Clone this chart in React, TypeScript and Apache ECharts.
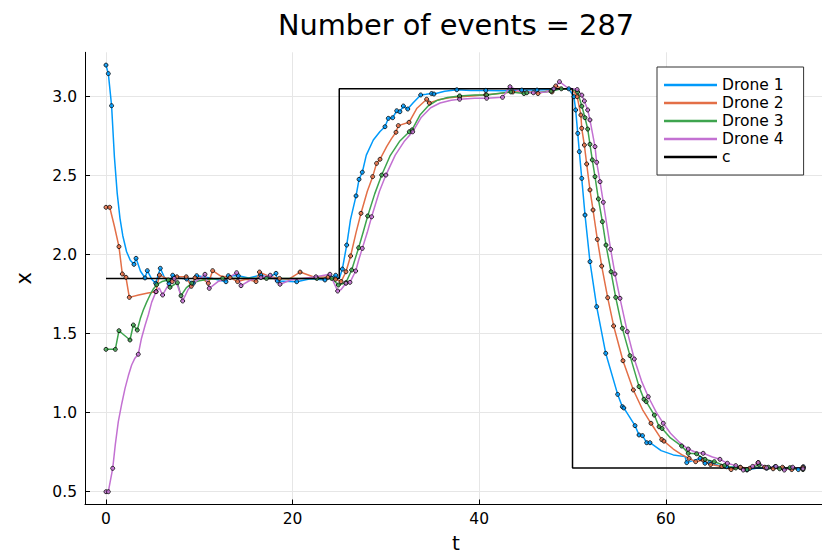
import React, { useEffect, useRef } from "react";
import * as echarts from "echarts";

const FONT = "DejaVu Sans";
const titleText = "Number of events = 287";
const xAxisTitle = "t";
const yAxisTitle = "x";
const droneNames = ["Drone 1", "Drone 2", "Drone 3", "Drone 4"];
const droneColors = ["#009AFA", "#E36F47", "#3EA44E", "#C371D2"];
const xTicks = [0, 20, 40, 60];
const yTicks = [0.5, 1.0, 1.5, 2.0, 2.5, 3.0];

// reference signal c
const cLine = [[0, 1.85], [25, 1.85], [25, 3.05], [50, 3.05], [50, 0.65], [75, 0.65]];

// [t, x, event?]  (third element 1 marks an event dot)
const drone1 = [
  [0, 3.2, 1], [0.25, 3.146, 1], [0.6, 2.943, 1], [0.9, 2.62], [1.2, 2.39], [1.5, 2.23], [1.8, 2.12], [2.2, 2.02], [2.6, 1.965],
  [3.0, 1.939, 1], [3.22, 1.977, 1], [3.7, 1.895], [4.18, 1.853, 1], [4.43, 1.899, 1], [4.9, 1.845], [5.33, 1.819, 1], [5.82, 1.914, 1],
  [6.3, 1.85], [6.75, 1.817, 1], [7.15, 1.87, 1], [7.9, 1.852], [8.65, 1.846, 1], [9.36, 1.819, 1], [9.72, 1.867, 1], [11.2, 1.852],
  [12.86, 1.829, 1], [13.11, 1.867, 1], [14.18, 1.867, 1], [15.3, 1.852], [16.58, 1.872, 1], [17.4, 1.855], [18.22, 1.882, 1],
  [18.36, 1.834, 1], [20.44, 1.829, 1], [21.9, 1.848], [23.47, 1.84, 1], [24.62, 1.87, 1], [25.0, 1.848], [25.33, 1.909, 1],
  [25.8, 2.061, 1], [26.2, 2.22], [26.8, 2.372, 1], [27.12, 2.477, 1], [27.47, 2.522, 1], [27.9, 2.63], [28.65, 2.726], [29.37, 2.78],
  [29.9, 2.81, 1], [30.26, 2.863, 1], [30.73, 2.867, 1], [31.16, 2.911, 1], [31.5, 2.905, 1], [31.87, 2.941, 1], [32.34, 2.922, 1],
  [32.9, 2.96], [33.73, 3.011, 1], [34.3, 3.015], [34.9, 3.02, 1], [35.15, 3.017, 1], [36.3, 3.035], [37.6, 3.044, 1], [39.1, 3.04],
  [40.7, 3.04, 1], [42.6, 3.038], [44.55, 3.042, 1], [46.2, 3.042, 1], [47.9, 3.046, 1], [49.6, 3.05, 1], [50.15, 3.0, 1],
  [50.34, 2.916, 1], [50.56, 2.768, 1], [50.73, 2.652, 1], [50.99, 2.483, 1], [51.34, 2.251, 1], [51.87, 1.956, 1], [52.59, 1.671, 1],
  [53.56, 1.376, 1], [54.84, 1.116, 1], [55.34, 1.038, 1], [55.5, 1.03, 1], [56.7, 0.918, 1], [57.13, 0.859, 1], [57.5, 0.855, 1],
  [57.95, 0.81, 1], [58.3, 0.81, 1], [59.5, 0.76], [60.8, 0.733], [62.06, 0.722], [62.24, 0.684, 1], [63.67, 0.711, 1], [64.2, 0.68, 1],
  [64.7, 0.684, 1], [65.6, 0.668], [66.5, 0.658, 1], [67.95, 0.654, 1], [68.7, 0.637, 1], [69.8, 0.65], [70.8, 0.648, 1],
  [71.7, 0.658, 1], [72.6, 0.648, 1], [73.5, 0.648, 1], [74.2, 0.64, 1], [74.74, 0.658, 1],
];

const drone2 = [
  [0, 2.3, 1], [0.4, 2.3, 1], [0.9, 2.18], [1.39, 2.051, 1], [1.75, 1.878, 1], [2.14, 1.857, 1], [2.5, 1.73, 1], [3.5, 1.745],
  [4.5, 1.757], [5.36, 1.766, 1], [5.72, 1.871, 1], [6.5, 1.85], [7.1, 1.83, 1], [7.6, 1.86, 1], [8.6, 1.86, 1], [9.14, 1.8, 1],
  [9.54, 1.854, 1], [10.3, 1.85], [10.97, 1.819, 1], [11.43, 1.899, 1], [12.3, 1.865], [13.3, 1.855, 1], [14.1, 1.83, 1],
  [15.0, 1.845], [16.08, 1.83, 1], [16.45, 1.89, 1], [17.5, 1.862], [18.6, 1.85, 1], [19.6, 1.846], [20.8, 1.89, 1], [22.2, 1.86],
  [23.8, 1.858, 1], [24.6, 1.845, 1], [25.2, 1.83, 1], [25.72, 1.892, 1], [26.22, 1.992, 1], [26.8, 2.14], [27.33, 2.262, 1],
  [28.0, 2.4], [28.58, 2.494, 1], [29.0, 2.578, 1], [29.37, 2.604, 1], [30.08, 2.684], [30.6, 2.735], [31.08, 2.775, 1],
  [31.33, 2.817, 1], [32.48, 2.838, 1], [33.3, 2.925], [34.37, 2.984, 1], [34.65, 2.96, 1], [35.6, 2.98], [36.8, 2.993],
  [37.9, 3.0, 1], [39.2, 3.005], [40.7, 3.012, 1], [42.2, 3.02], [43.6, 3.03, 1], [45.2, 3.032], [46.3, 3.02, 1], [47.2, 3.035],
  [47.8, 3.03, 1], [48.2, 3.068, 1], [49.0, 3.05], [50.0, 3.046], [50.5, 3.0, 1], [50.9, 2.884, 1], [50.99, 2.8, 1],
  [51.27, 2.694, 1], [51.52, 2.574, 1], [51.87, 2.41, 1], [52.2, 2.283, 1], [52.66, 2.097, 1], [53.13, 1.928, 1], [53.77, 1.728, 1],
  [54.41, 1.549, 1], [55.41, 1.329, 1], [56.52, 1.144, 1], [57.5, 1.02], [58.41, 0.933, 1], [59.56, 0.83, 1], [59.8, 0.82, 1],
  [60.8, 0.77], [61.7, 0.735], [62.5, 0.711, 1], [63.2, 0.69, 1], [64.0, 0.7, 1], [64.8, 0.672, 1], [66.0, 0.66, 1], [67.0, 0.64, 1],
  [68.0, 0.655, 1], [69.0, 0.648, 1], [69.9, 0.684, 1], [70.6, 0.655, 1], [71.5, 0.645, 1], [72.5, 0.655, 1], [73.5, 0.64, 1],
  [74.7, 0.655, 1],
];

const drone3 = [
  [0, 1.401, 1], [1.0, 1.401, 1], [1.39, 1.519, 1], [2.57, 1.46, 1], [2.93, 1.555, 1], [3.35, 1.523, 1], [3.7, 1.6], [4.0, 1.65],
  [4.36, 1.7], [4.72, 1.745], [5.1, 1.785], [5.43, 1.81, 1], [6.0, 1.83], [6.68, 1.84, 1], [6.86, 1.794, 1], [7.65, 1.823, 1],
  [8.04, 1.74, 1], [8.6, 1.79], [9.2, 1.82, 1], [10, 1.835], [11, 1.845], [12.5, 1.85, 1], [15, 1.851], [17.2, 1.85, 1], [20, 1.85],
  [22.6, 1.85, 1], [24.2, 1.85, 1], [24.9, 1.808, 1], [25.72, 1.823, 1], [26.33, 1.903, 1], [27.08, 2.044, 1], [27.6, 2.15],
  [28.05, 2.245, 1], [28.8, 2.385], [29.55, 2.504, 1], [30.44, 2.625], [31.5, 2.72], [32.51, 2.778, 1], [32.8, 2.79, 1],
  [33.65, 2.884], [34.5, 2.94], [35.44, 2.975], [36.6, 2.995], [37.9, 3.005, 1], [39.5, 3.01], [40.8, 3.011, 1], [42.0, 3.02],
  [43.4, 3.03, 1], [44.8, 3.02, 1], [45.1, 3.025, 1], [46.5, 3.028], [47.7, 3.035, 1], [48.8, 3.05, 1], [50.0, 3.047],
  [50.55, 3.03, 1], [51.0, 2.94, 1], [51.34, 2.867, 1], [51.63, 2.795, 1], [51.87, 2.699, 1], [52.12, 2.6, 1], [52.41, 2.494, 1],
  [52.77, 2.353, 1], [53.2, 2.209, 1], [53.59, 2.061, 1], [54.13, 1.892, 1], [54.63, 1.73, 1], [55.34, 1.534, 1], [56.16, 1.361, 1],
  [57.13, 1.165, 1], [57.66, 1.085, 1], [57.9, 1.07, 1], [58.77, 0.985, 1], [59.28, 0.911, 1], [59.6, 0.9, 1], [60.5, 0.84],
  [61.7, 0.789, 1], [62.4, 0.743, 1], [63.3, 0.74, 1], [64.2, 0.705, 1], [65.2, 0.69, 1], [66.3, 0.665, 1], [67.5, 0.65, 1],
  [68.7, 0.64, 1], [70.0, 0.67, 1], [71.0, 0.655, 1], [72.2, 0.645, 1], [73.3, 0.652, 1], [74.7, 0.64, 1],
];

const drone4 = [
  [0, 0.5, 1], [0.25, 0.5, 1], [0.72, 0.648, 1], [1.0, 0.8], [1.32, 0.943], [1.7, 1.06], [2.04, 1.154], [2.4, 1.235], [2.75, 1.302],
  [3.1, 1.345], [3.46, 1.37, 1], [3.8, 1.47], [4.2, 1.555], [4.54, 1.62], [4.9, 1.7], [5.36, 1.766, 1], [5.7, 1.79], [6.07, 1.745, 1],
  [6.7, 1.81], [7.32, 1.85, 1], [7.7, 1.8], [8.22, 1.707, 1], [8.8, 1.78], [9.6, 1.83], [10.61, 1.876, 1], [11.07, 1.787, 1],
  [12, 1.83], [13.0, 1.848], [14.0, 1.886, 1], [14.47, 1.804, 1], [15.5, 1.84], [16.6, 1.855, 1], [17.6, 1.87, 1], [18.65, 1.813, 1],
  [19.8, 1.84], [21.0, 1.85], [22.5, 1.86, 1], [24.0, 1.876, 1], [24.83, 1.77, 1], [25.2, 1.78], [25.72, 1.819, 1], [26.15, 1.825, 1],
  [26.76, 1.897, 1], [27.1, 1.97], [27.47, 2.04, 1], [28.0, 2.14], [28.47, 2.24, 1], [29.3, 2.4], [30.0, 2.504, 1], [31.0, 2.63],
  [32.0, 2.72], [32.87, 2.778, 1], [33.8, 2.87], [34.8, 2.93], [35.8, 2.96], [37.0, 2.978], [37.9, 2.984, 1], [39.5, 2.99],
  [40.8, 2.99, 1], [42.5, 2.996, 1], [43.3, 3.063, 1], [44.3, 3.035], [45.8, 3.025, 1], [47.2, 3.03], [48.0, 3.05, 1],
  [48.6, 3.095, 1], [49.5, 3.055], [50.5, 3.045, 1], [51.0, 3.01, 1], [51.27, 2.973, 1], [51.63, 2.916, 1], [51.87, 2.853, 1],
  [52.41, 2.684, 1], [52.59, 2.585, 1], [52.95, 2.462, 1], [53.3, 2.332, 1], [53.7, 2.18], [54.09, 2.034, 1], [54.55, 1.878, 1],
  [55.09, 1.724, 1], [55.87, 1.513, 1], [56.62, 1.34, 1], [57.4, 1.2], [58.12, 1.101, 1], [59.0, 1.0], [59.73, 0.933, 1],
  [60.5, 0.87], [61.5, 0.81], [62.4, 0.77, 1], [63.2, 0.75], [64.0, 0.743, 1], [65.0, 0.72], [65.8, 0.705, 1], [66.6, 0.68, 1],
  [67.5, 0.665, 1], [68.3, 0.637, 1], [69.3, 0.66, 1], [69.9, 0.684, 1], [70.8, 0.652, 1], [71.8, 0.66, 1], [72.7, 0.637, 1],
  [73.6, 0.655, 1], [74.7, 0.645, 1],
];

const drones = [drone1, drone2, drone3, drone4];

export default function App() {
  const ref = useRef<HTMLDivElement>(null);
  useEffect(() => {
    const chart = echarts.init(ref.current!, null, { renderer: "svg" });
    const lineSeries = drones.map((d, i) => ({
      type: "line",
      name: droneNames[i],
      data: d.map((p) => [p[0], p[1]]),
      symbol: "none",
      showSymbol: false,
      lineStyle: { width: 1.5, color: droneColors[i] },
      itemStyle: { color: droneColors[i] },
      z: 2,
      silent: true,
    }));
    const dotSeries = drones.map((d, i) => ({
      type: "scatter",
      name: "events " + (i + 1),
      data: d.filter((p) => p[2]).map((p) => [p[0], p[1]]),
      symbol: "circle",
      symbolSize: 4,
      itemStyle: { color: droneColors[i], borderColor: "#000", borderWidth: 1 },
      z: 4,
      silent: true,
    }));
    chart.setOption({
      animation: false,
      backgroundColor: "#fff",
      textStyle: { fontFamily: FONT },
      graphic: [
        {
          type: "text",
          x: 456,
          y: 25,
          style: {
            text: titleText,
            fontFamily: FONT,
            fontSize: 28.8,
            fill: "#000",
            textAlign: "center",
            textVerticalAlign: "middle",
          },
        },
        {
          type: "text",
          x: 456,
          y: 543,
          style: {
            text: xAxisTitle,
            fontFamily: FONT,
            fontSize: 20,
            fill: "#000",
            textAlign: "center",
            textVerticalAlign: "middle",
          },
        },
      ],
      legend: {
        data: [...droneNames, "c"].map((n) => ({ name: n, icon: "rect" })),
        orient: "vertical",
        left: 657,
        top: 67,
        padding: [9, 20, 9, 7],
        itemGap: 0,
        itemWidth: 53,
        itemHeight: 2.5,
        borderColor: "#333",
        borderWidth: 1,
        backgroundColor: "#fff",
        textStyle: { fontFamily: FONT, fontSize: 15.5, color: "#000", lineHeight: 18 },
      },
      grid: { left: 85, top: 52.3, width: 737, height: 452.2, containLabel: false, outerBoundsMode: "none" },
      xAxis: {
        type: "value",
        min: -2.25,
        max: 76.74,
        axisLine: { show: true, onZero: false, lineStyle: { color: "#000", width: 1 } },
        axisTick: { show: true, inside: true, length: 5, customValues: xTicks, lineStyle: { color: "#000" } },
        axisLabel: { customValues: xTicks, margin: 6, fontFamily: FONT, fontSize: 15.5, color: "#000" },
        splitLine: { show: true, lineStyle: { color: "#e6e6e6", width: 1 } },
      },
      yAxis: {
        type: "value",
        min: 0.419,
        max: 3.281,
        name: yAxisTitle,
        nameLocation: "middle",
        nameGap: 51,
        nameTextStyle: { fontFamily: FONT, fontSize: 21, color: "#000" },
        axisLine: { show: true, onZero: false, lineStyle: { color: "#000", width: 1 } },
        axisTick: { show: true, inside: true, length: 5, customValues: yTicks, lineStyle: { color: "#000" } },
        axisLabel: {
          customValues: yTicks,
          margin: 8,
          fontFamily: FONT,
          fontSize: 15.5,
          color: "#000",
          formatter: (v: number) => v.toFixed(1),
        },
        splitLine: { show: true, lineStyle: { color: "#e6e6e6", width: 1 } },
      },
      series: [
        ...lineSeries,
        {
          type: "line",
          name: "c",
          data: cLine,
          symbol: "none",
          showSymbol: false,
          lineStyle: { width: 1.5, color: "#000" },
          itemStyle: { color: "#000" },
          z: 3,
          silent: true,
        },
        ...dotSeries,
      ],
    });
    return () => chart.dispose();
  }, []);
  return <div ref={ref} style={{ position: "fixed", left: 0, top: 0, width: 822, height: 555 }} />;
}
